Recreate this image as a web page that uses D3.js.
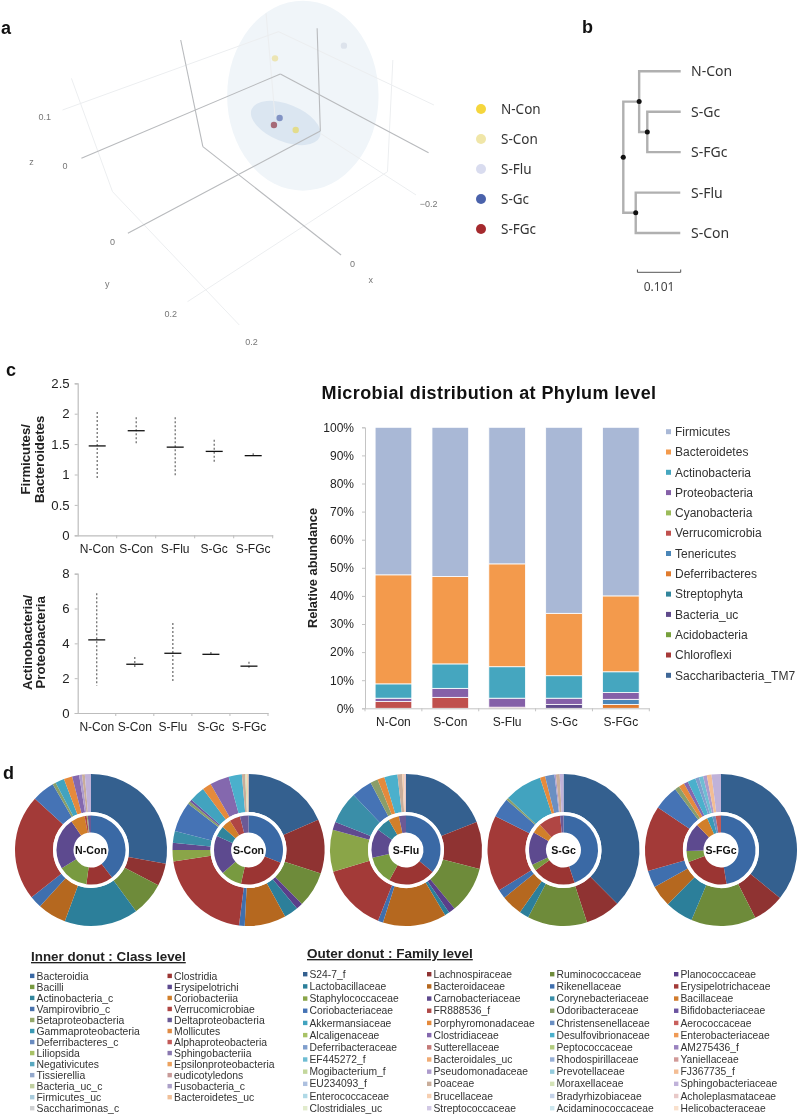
<!DOCTYPE html>
<html><head><meta charset="utf-8">
<script src="https://d3js.org/d3.v7.min.js"></script>
<style>
html,body{margin:0;padding:0;background:#fff}
svg{display:block;filter:blur(0.4px)}
text{font-family:"Liberation Sans",Arial,sans-serif;fill:#222}
</style></head><body>
<svg id="c" width="800" height="1116"></svg>
<script>
// ---------- shared
const groups = ["N-Con","S-Con","S-Flu","S-Gc","S-FGc"];
// ---------- panel a : ordination (values in projected plot units)
const ordGroups = ["N-Con","S-Con","S-Flu","S-Gc","S-FGc"];
const ordColors = ["#f5d63d","#f0e6a8","#d9dcef","#4a62ab","#a52a2e"];
const ordPx = [828,770,963,783,767];
const ordPy = [390,175,137,354,375];
const ordPointColors = ["#e3dc8c","#ece5b4","#dde3ec","#8293c4","#a66a78"];
const ordHeavyGrid = [
 [506,120,568,440],[568,440,955,765],[228,475,785,222],[785,222,1200,458],
 [358,700,897,393],[888,85,897,393]];
const ordLightGrid = [
 [175,330,780,95],[780,95,1215,315],[200,235,315,575],[315,575,670,975],
 [525,905,1085,515],[1085,515,1100,180],[897,400,1165,585],[745,40,770,350]];
const ordTicks = [["0.1",125,352],["0",182,497],["z",88,486],["0",315,727],["y",300,851],["0.2",478,941],["0.2",704,1026],["0",987,791],["x",1038,841],["\u22120.2",1200,612]];
// ---------- panel b : dendrogram
const treeData = {len:0,children:[
  {len:0.037,children:[
    {name:"N-Con",len:0.097},
    {len:0.019,children:[{name:"S-Gc",len:0.078},{name:"S-FGc",len:0.078}]}]},
  {len:0.029,children:[{name:"S-Flu",len:0.104},{name:"S-Con",len:0.104}]}]};
const treeScaleBar = 0.101;
// ---------- panel c : ratio plots
const fbMedian = [1.47,1.72,1.45,1.38,1.31];
const fbHigh   = [2.03,1.94,1.94,1.57,1.35];
const fbLow    = [0.93,1.51,0.98,1.18,1.29];
const fbTicks  = [0,0.5,1,1.5,2,2.5];
const apMedian = [4.2,2.8,3.43,3.37,2.69];
const apHigh   = [6.88,3.22,5.17,3.5,2.94];
const apLow    = [1.57,2.52,1.72,3.28,2.48];
const apTicks  = [2,4,6,8];
// ---------- panel c : stacked bars
const phyla = ["Firmicutes","Bacteroidetes","Actinobacteria","Proteobacteria","Cyanobacteria","Verrucomicrobia","Tenericutes","Deferribacteres","Streptophyta","Bacteria_uc","Acidobacteria","Chloroflexi","Saccharibacteria_TM7"];
const phylaColors = ["#a9b8d6","#f39a4c","#45a6bf","#8560a8","#9bbb59","#c0504d","#4a86b8","#e07b2e","#31859c","#5f4a8b","#77a03c","#a63a38","#3f6797"];
const pctTicks = [0,10,20,30,40,50,60,70,80,90,100];
const phylaNCon = [52.5,38.8,5.1,1.2,0,2.4,0,0,0,0,0,0,0];
const phylaSCon = [53.1,31.1,8.7,3.2,0,3.9,0,0,0,0,0,0,0];
const phylaSFlu = [48.6,36.6,11.2,3.2,0,0.4,0,0,0,0,0,0,0];
const phylaSGc  = [66.2,22.2,8.0,2.2,0,0,0,0,0,1.4,0,0,0];
const phylaSFGc = [60.0,27.0,7.4,2.4,0,0,1.8,1.4,0,0,0,0,0];
// ---------- panel d : donuts
const classes = ["Bacteroidia","Clostridia","Bacilli","Erysipelotrichi","Actinobacteria_c","Coriobacteriia","Vampirovibrio_c","Verrucomicrobiae","Betaproteobacteria","Deltaproteobacteria","Gammaproteobacteria","Mollicutes","Deferribacteres_c","Alphaproteobacteria","Liliopsida","Sphingobacteriia","Negativicutes","Epsilonproteobacteria","Tissierellia","eudicotyledons","Bacteria_uc_c","Fusobacteria_c","Firmicutes_uc","Bacteroidetes_uc","Saccharimonas_c"];
const classColors = ["#3a69a5","#9b3533","#789a40","#5d4a8f","#31859c","#d17f2a","#4a72ad","#b04644","#94a86a","#6b5a96","#3a9ab5","#e08b45","#6a8cc0","#c25a58","#a8c266","#8a78b0","#58a8c0","#eca25f","#93a8cc","#c89a98","#c0cfa0","#aba0c8","#a8cbdc","#f0bf98","#cfd0d2"];
const families = ["S24-7_f","Lachnospiraceae","Ruminococcaceae","Planococcaceae","Lactobacillaceae","Bacteroidaceae","Rikenellaceae","Erysipelotrichaceae","Staphylococcaceae","Carnobacteriaceae","Corynebacteriaceae","Bacillaceae","Coriobacteriaceae","FR888536_f","Odoribacteraceae","Bifidobacteriaceae","Akkermansiaceae","Porphyromonadaceae","Christensenellaceae","Aerococcaceae","Alcaligenaceae","Clostridiaceae","Desulfovibrionaceae","Enterobacteriaceae","Deferribacteraceae","Sutterellaceae","Peptococcaceae","AM275436_f","EF445272_f","Bacteroidales_uc","Rhodospirillaceae","Yaniellaceae","Mogibacterium_f","Pseudomonadaceae","Prevotellaceae","FJ367735_f","EU234093_f","Poaceae","Moraxellaceae","Sphingobacteriaceae","Enterococcaceae","Brucellaceae","Bradyrhizobiaceae","Acholeplasmataceae","Clostridiales_uc","Streptococcaceae","Acidaminococcaceae","Helicobacteraceae"];
const familyColors = ["#34608f","#8f3332","#6e8b3a","#5a3f8a","#2c7f9a","#b5681f",
 "#3f6fae","#a33a38","#8aa548","#5f4a8f","#3a8ea8","#d17b2c",
 "#4573b5","#b04a48","#8a9e6a","#6b54a0","#42a3bf","#e58a3c",
 "#6a8fc2","#c85f5c","#a8c266","#8468ae","#4bb0cc","#ef9a55",
 "#7f9ecc","#c47a78","#b2cc7e","#9a82bf","#6fbdd3","#f0ab74",
 "#97b0d6","#d19a98","#c3d79c","#ad9bcc","#92cbdc","#f3bd94",
 "#adc0df","#c9ad9a","#d3e2b6","#c0b2d9","#b0d9e6","#f6cfb1",
 "#c3d1e8","#e8c9c8","#e1ebcc","#d1c8e4","#cbe6ee","#f9e0cc"];
const outerNCon = [27.9,4.8,7.2,0,15.7,6.1,2.6,22.5,0,0,0,0,4.8,0,0.7,0,1.9,1.8,0,0,0,1.5,0,0,0,0,0,0,0,0,0,0,0,0.6,0,0,0,0.6,0,1.3];
const outerSCon = [18.5,11.5,7.6,1.4,3,8.8,1.2,20.6,2.4,1.5,2.5,0,6.4,0,0.6,0.5,3.3,1.9,0,0,0,4.1,2.8,0,0,0,0,0,0,0,0,0,0,0,0,0,0,0.7,0.3,0,0,0.4];
const outerSFlu = [19,10,10,1.4,1,13.5,1.1,14.4,8.9,1.7,6.9,0,4.4,0,1.6,0,0,1.5,0,0,0,0,2.8,0,0,0,0,0,0,0,0,0,0,0,0,0,0,1.0,0,0,0,0.4,0,0.4];
const outerSGc  = [37.5,7.5,12.7,0,2,4.5,1.9,16.2,0,0,0,0,4.2,0,0.5,0,8,1.1,2,0,0,0,0,0,0,0,0,0,0,0,0,0,0,0.3,0,0,0,0.8,0,0.8];
const outerSFGc = [35.9,6.7,13.8,0,6,4.6,3.6,13.9,0,0,0,0,5.3,0,1,0,0,1.2,0,0,0,0.9,1.7,0,0.8,0,0,0,0.9,0,0,0,0,0.8,0,1,0,0,0,2];
const innerNCon = [39.4,12.5,13.9,24.2,0,6.5,0,1,0.5,1.5];
const innerSCon = [31,22.5,9.9,18.2,5,4.4,0,5,0,4];
const innerSFlu = [36,22,13.4,13.6,6.7,5,0,0,0,3.3];
const innerSGc  = [44.8,20.2,3,15.5,0,4.5,0,10.4,0,1.6];
const innerSFGc = [47.2,21.8,5.2,13.2,0,5.6,0,0,0,0,2.5,0,1.5,2.5];
const outerAll = [outerNCon,outerSCon,outerSFlu,outerSGc,outerSFGc];
const innerAll = [innerNCon,innerSCon,innerSFlu,innerSGc,innerSFGc];
const phylaAll = [phylaNCon,phylaSCon,phylaSFlu,phylaSGc,phylaSFGc];

const svg = d3.select("#c");
const letter=(t,x,y)=>svg.append("text").text(t).attr("x",x).attr("y",y).attr("font-size",18).attr("font-weight",700).style("fill","#111");
letter("a",1,34);letter("b",582,33);letter("c",6,376);letter("d",3,779);

// ===== panel a
(function(){
  const sx=d3.scaleLinear().domain([0,1568]).range([0,560]);
  const sy=d3.scaleLinear().domain([0,1050]).range([0,350]);
  const a=svg.append("g");
  a.append("ellipse").attr("cx",sx(848)).attr("cy",sy(287)).attr("rx",sx(212)).attr("ry",sy(285)).attr("fill","#f0f5f9");
  a.append("ellipse").attr("transform",`translate(${sx(800)},${sy(369)}) rotate(22)`).attr("rx",sx(103)).attr("ry",sy(56)).attr("fill","#dbe6f1");
  const seg=(sel,data,col,w)=>sel.selectAll(null).data(data).join("line")
    .attr("x1",d=>sx(d[0])).attr("y1",d=>sy(d[1])).attr("x2",d=>sx(d[2])).attr("y2",d=>sy(d[3])).attr("stroke",col).attr("stroke-width",w);
  seg(a.append("g"),ordLightGrid,"#eceef0",1);
  seg(a.append("g"),ordHeavyGrid,"#b8babd",1.1);
  a.append("g").selectAll("circle").data(ordPx).join("circle")
    .attr("cx",d=>sx(d)).attr("cy",(d,i)=>sy(ordPy[i])).attr("r",3.2).attr("fill",(d,i)=>ordPointColors[i]);
  a.append("g").selectAll("text").data(ordTicks).join("text").text(d=>d[0])
    .attr("x",d=>sx(d[1])).attr("y",d=>sy(d[2])+3).attr("text-anchor","middle").attr("font-size",9).style("fill","#777");
  const ly=d3.scalePoint().domain(ordGroups).range([109,229]);
  const lg=a.append("g").selectAll("g").data(ordGroups).join("g").attr("transform",d=>`translate(481,${ly(d)})`);
  lg.append("circle").attr("r",5).attr("fill",(d,i)=>ordColors[i]);
  lg.append("text").text(d=>d).attr("x",20).attr("y",5).attr("font-size",13.5).style("font-family","'Noto Sans'").style("fill","#333");
})();

// ===== panel b
(function(){
  const root=d3.hierarchy(treeData);
  root.eachBefore(n=>{n.dist=(n.parent?n.parent.dist:0)+n.data.len});
  const leaves=root.leaves();
  const x=d3.scaleLinear().domain([0,0.134]).range([623.3,680.7]);
  const y=d3.scalePoint().domain(leaves.map(d=>d.data.name)).range([71.3,233]);
  root.eachAfter(n=>{n.py=n.children?d3.mean(n.children,c=>c.py):y(n.data.name)});
  const g=svg.append("g");
  g.selectAll("path").data(root.links()).join("path").attr("fill","none").attr("stroke","#b0b0b0").attr("stroke-width",2.4)
    .attr("d",d=>`M${x(d.source.dist)},${d.source.py}V${d.target.py}H${x(d.target.dist)}`);
  g.append("line").attr("x1",x(-0.007)).attr("x2",x(0)).attr("y1",root.py).attr("y2",root.py).attr("stroke","#999");
  g.selectAll("circle").data(root.descendants().filter(d=>d.children)).join("circle").attr("r",2.5).attr("cx",d=>x(d.dist)).attr("cy",d=>d.py).attr("fill","#111");
  g.selectAll("text.l").data(leaves).join("text").attr("class","l").text(d=>d.data.name).attr("x",691).attr("y",d=>d.py+5).attr("font-size",14).style("font-family","'Noto Sans'").style("fill","#333");
  const bx1=x.range()[1], bx0=bx1-(x(treeScaleBar)-x(0));
  g.append("path").attr("d",`M${bx0},269.5V272.3H${bx1}V269.5`).attr("fill","none").attr("stroke","#555").attr("stroke-width",1);
  g.append("text").text(String(treeScaleBar)).attr("x",(bx0+bx1)/2).attr("y",291).attr("text-anchor","middle").attr("font-size",12).style("font-family","'Noto Sans'").style("fill","#444");
})();

// ===== panel c ratio plots
function ratio(med,hi,lo,ticks,maxV,top,bot,right,titles,tx,fmt){
  const x=d3.scaleBand().domain(groups).range([77.7,right]);
  const y=d3.scaleLinear().domain([0,maxV]).range([bot,top]);
  const g=svg.append("g");
  const ya=g.append("g").attr("transform","translate(77.7,0)").call(d3.axisLeft(y).tickValues(ticks).tickSize(3).tickFormat(fmt));
  const xa=g.append("g").attr("transform",`translate(0,${bot})`).call(d3.axisBottom(x).tickSize(0).tickPadding(9));
  g.selectAll(".domain").attr("stroke","#bdbdbd").attr("stroke-width",1.2);
  g.selectAll(".tick line").attr("stroke","#bdbdbd");
  ya.selectAll("text").attr("font-size",13.2).style("fill","#222").attr("dx",-2).style("font-family","'Liberation Sans'");
  xa.selectAll("text").attr("font-size",12).style("fill","#222").style("font-family","'Liberation Sans'");
  xa.selectAll(null).data(groups).join("line").attr("x1",d=>x(d)+x.bandwidth()).attr("x2",d=>x(d)+x.bandwidth()).attr("y1",0).attr("y2",3).attr("stroke","#bdbdbd");
  g.selectAll("line.w").data(groups).join("line").attr("class","w").attr("x1",d=>x(d)+x.bandwidth()/2).attr("x2",d=>x(d)+x.bandwidth()/2)
    .attr("y1",(d,i)=>y(hi[i])).attr("y2",(d,i)=>y(lo[i])).attr("stroke","#666").attr("stroke-width",1.2).attr("stroke-dasharray","2 2");
  g.selectAll("line.m").data(groups).join("line").attr("class","m").attr("x1",d=>x(d)+x.bandwidth()/2-8.5).attr("x2",d=>x(d)+x.bandwidth()/2+8.5)
    .attr("y1",(d,i)=>y(med[i])).attr("y2",(d,i)=>y(med[i])).attr("stroke","#111").attr("stroke-width",1.3);
  titles.forEach((t,i)=>g.append("text").text(t).attr("transform",`translate(${tx[i]},${(top+bot)/2+ (maxV>5?-1:0)}) rotate(-90)`).attr("text-anchor","middle").attr("font-size",13.2).attr("font-weight",700).style("fill","#222"));
}
ratio(fbMedian,fbHigh,fbLow,fbTicks,2.5,383.3,535.3,272.7,["Firmicutes/","Bacteroidetes"],[30,44],d3.format("~g"));
ratio(apMedian,apHigh,apLow,[0,...apTicks],8,573.7,713,268,["Actinobacteria/","Proteobacteria"],[32,45],d3.format("d"));

// ===== panel c stacked
(function(){
  const x=d3.scaleBand().domain(groups).range([365,649.3]).paddingInner(0.355).paddingOuter(0.178);
  const y=d3.scaleLinear().domain([0,100]).range([708.3,427.3]);
  const rows=groups.map((g,i)=>{const o={group:g};phyla.forEach((p,j)=>o[p]=phylaAll[i][j]);return o;});
  const stacked=d3.stack().keys(phyla.slice().reverse())(rows);
  const g=svg.append("g");
  stacked.forEach(s=>{
    g.append("g").selectAll("rect").data(s).join("rect").attr("x",d=>x(d.data.group)).attr("width",x.bandwidth())
      .attr("y",d=>y(d[1])).attr("height",d=>Math.max(0,y(d[0])-y(d[1])))
      .attr("fill",phylaColors[phyla.indexOf(s.key)]).attr("stroke","#fff").attr("stroke-width",d=>d[1]>d[0]?0.8:0);
  });
  const ya=g.append("g").attr("transform","translate(365,0)").call(d3.axisLeft(y).tickValues(pctTicks).tickSize(3).tickFormat(d=>d+"%"));
  const xa=g.append("g").attr("transform","translate(0,708.3)").call(d3.axisBottom(x).tickSize(0).tickPadding(9));
  g.selectAll(".domain").attr("stroke","#c4c4c4").attr("stroke-width",1);
  g.selectAll(".tick line").attr("stroke","#c4c4c4");
  xa.selectAll(null).data(d3.range(6)).join("line").attr("x1",d=>365+d*(649.3-365)/5).attr("x2",d=>365+d*(649.3-365)/5).attr("y1",0).attr("y2",3).attr("stroke","#c4c4c4");
  ya.selectAll("text").attr("font-size",12).style("fill","#222").attr("dx",-5).style("font-family","'Liberation Sans'");
  xa.selectAll("text").attr("font-size",12).style("fill","#222").style("font-family","'Liberation Sans'");
  g.append("text").text("Relative abundance").attr("transform","translate(317,568) rotate(-90)").attr("text-anchor","middle").attr("font-size",12.8).attr("font-weight",700);
  g.append("text").text("Microbial distribution at Phylum level").attr("x",321.5).attr("y",399).attr("font-size",18).attr("letter-spacing",0.42).attr("font-weight",700).style("fill","#111");
  const ly=d3.scalePoint().domain(phyla).range([431.7,675.3]);
  const lg=g.append("g").selectAll("g").data(phyla).join("g").attr("transform",d=>`translate(666,${ly(d)})`);
  lg.append("rect").attr("x",0).attr("y",-2.5).attr("width",5).attr("height",5).attr("fill",(d,i)=>phylaColors[i]);
  lg.append("text").text(d=>d).attr("x",9).attr("y",4.2).attr("font-size",12).style("fill","#333");
})();

// ===== panel d donuts
(function(){
  const cx=d3.scalePoint().domain(groups).range([91,721]);
  const cy=850;
  const pie=d3.pie().sort(null).value(d=>d);
  const arcO=d3.arc().innerRadius(38).outerRadius(76);
  const arcI=d3.arc().innerRadius(17.5).outerRadius(34.5);
  groups.forEach((name,i)=>{
    const g=svg.append("g").attr("transform",`translate(${cx(name)},${cy})`);
    g.append("g").selectAll("path").data(pie(outerAll[i])).join("path").attr("d",arcO).attr("fill",(d,k)=>familyColors[k]);
    g.append("circle").attr("r",36.2).attr("fill","none").attr("stroke","#fff").attr("stroke-width",3.6);
    g.append("g").selectAll("path").data(pie(innerAll[i])).join("path").attr("d",arcI).attr("fill",(d,k)=>classColors[k]);
    g.append("text").text(name).attr("text-anchor","middle").attr("y",4).attr("font-size",10.6).attr("font-weight",700).style("fill","#111");
  });
  function legendBlock(title,tx,ty,tfs,names,colors,colX,rowY,ncols,fs){
    svg.append("text").text(title).attr("x",tx).attr("y",ty).attr("font-size",tfs).attr("font-weight",700).attr("text-decoration","underline").style("fill","#222");
    const items=svg.append("g").selectAll("g").data(names).join("g")
      .attr("transform",(d,k)=>`translate(${colX[k%ncols]},${rowY(Math.floor(k/ncols))})`);
    items.append("rect").attr("y",-2).attr("width",4.4).attr("height",4.4).attr("fill",(d,k)=>colors[k]);
    items.append("text").text(d=>d).attr("x",6.5).attr("y",3.8).attr("font-size",fs).style("fill","#333");
  }
  legendBlock("Inner donut : Class level",31,961,13.4,classes,classColors,[30,167.5],
    d3.scaleLinear().domain([0,12]).range([975.7,1108]),2,10.4);
  legendBlock("Outer donut : Family level",307,958,13.5,families,familyColors,[303,427,550,674],
    d3.scaleLinear().domain([0,11]).range([974,1108]),4,10.3);
})();
</script>
</body></html>
